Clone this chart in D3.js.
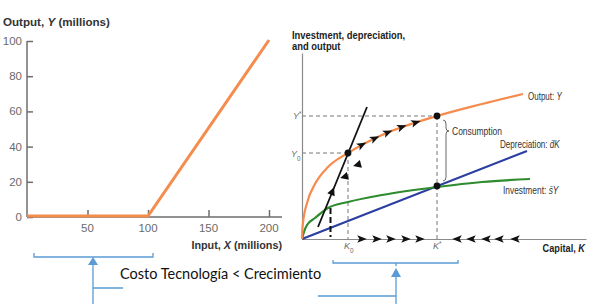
<!DOCTYPE html>
<html><head><meta charset="utf-8">
<script src="https://cdn.jsdelivr.net/npm/d3@7"></script>
<style>body{margin:0;background:#fff}svg{display:block}</style>
</head><body>
<script>
// ---------- Left chart data ----------
const leftInput = [0, 100, 200];
const leftOutput = [0, 0, 100];
const leftYTicks = [0, 20, 40, 60, 80, 100];
const leftXTicks = [50, 100, 150, 200];

// ---------- Right chart data (arbitrary units) ----------
const outK = [0, 0.3, 1, 5, 13, 26, 46, 80, 135, 180, 221];
const outY = [0, 8, 16, 36, 55, 72, 86, 104, 123, 135, 145];
const invK = [0, 2, 5, 13, 26, 46, 80, 135, 180, 228];
const invI = [0, 7, 14, 21, 31, 37, 44, 52, 57, 60];
const depK = [0, 225];
const depD = [0, 88];
const tanK = [16, 65];
const tanV = [12, 132];
const steadyK = [46, 135];      // K0, K*
const steadyY = [86, 123];      // Y0, Y*
const steadyI = 53;             // investment = depreciation at K*
const curveArrowK = [60, 73, 86, 100, 114];
const axisRightK = [60, 75, 89, 104, 118];
const axisLeftK = [155, 169, 184, 197, 213];
const annotText = "Costo Tecnología < Crecimiento";

const W = 598, H = 304;
const svg = d3.select("body").append("svg").attr("width", W).attr("height", H);
svg.append("rect").attr("width", W).attr("height", H).attr("fill", "#fff");

const ORANGE = "#f58b4c", BLUE = "#5b9bd5";

// ================= LEFT CHART =================
const lx = d3.scaleLinear().domain([0, 200]).range([27, 269]);
const ly = d3.scaleLinear().domain([0, 100]).range([217, 41]);
const L = svg.append("g").attr("font-family", "Liberation Sans, Arial, sans-serif");

const axCol = "#6e6e6e";
const yAx = L.append("g").attr("transform", `translate(${lx(0)},0)`)
  .call(d3.axisRight(ly).tickValues(leftYTicks).tickSize(6).tickFormat(""));
yAx.select(".domain").attr("stroke", axCol).attr("stroke-width", 1.5).attr("d", `M0,${ly(100)}V${ly(0)}`);
yAx.selectAll(".tick line").attr("stroke", axCol).attr("stroke-width", 1.5);
L.selectAll(".ylab").data(leftYTicks).join("text")
  .attr("x", 22).attr("y", d => ly(d) + 4).attr("text-anchor", "end")
  .attr("font-size", 11.5).attr("fill", "#6a6a6a").text(d => d);
const xAx = L.append("g").attr("transform", `translate(0,${ly(0)})`)
  .call(d3.axisTop(lx).tickValues(leftXTicks).tickSize(7).tickFormat(""));
xAx.select(".domain").attr("stroke", axCol).attr("stroke-width", 1.5).attr("d", `M${lx(0)},0H282`);
xAx.selectAll(".tick line").attr("stroke", axCol).attr("stroke-width", 1.5);
L.selectAll(".xlab").data(leftXTicks).join("text")
  .attr("x", d => lx(d)).attr("y", 232).attr("text-anchor", "middle")
  .attr("font-size", 11.5).attr("fill", "#6a6a6a").text(d => d);

L.append("path").datum(leftInput.map((d, i) => [d, leftOutput[i]]))
  .attr("d", d3.line().x(d => lx(d[0])).y(d => ly(d[1]) - 1))
  .attr("fill", "none").attr("stroke", ORANGE).attr("stroke-width", 3);

const t1 = L.append("text").attr("x", 3).attr("y", 26).attr("font-size", 11.6).attr("font-weight", "bold").attr("fill", "#333");
t1.append("tspan").text("Output, ");
t1.append("tspan").attr("font-style", "italic").text("Y");
t1.append("tspan").text(" (millions)");
const t2 = L.append("text").attr("x", 282).attr("y", 249).attr("text-anchor", "end").attr("font-size", 10.8).attr("font-weight", "bold").attr("fill", "#333");
t2.append("tspan").text("Input, ");
t2.append("tspan").attr("font-style", "italic").text("X");
t2.append("tspan").text(" (millions)");

// ================= RIGHT CHART =================
const rx = d3.scaleLinear().domain([0, 284]).range([302, 586]);
const ry = d3.scaleLinear().domain([0, 186]).range([239, 53]);
const R = svg.append("g").attr("font-family", "Liberation Sans, Arial, sans-serif");
const gray = "#8a8a8a";

const dash = (x1, y1, x2, y2) => R.append("line").attr("x1", x1).attr("y1", y1).attr("x2", x2).attr("y2", y2)
  .attr("stroke", "#777").attr("stroke-width", 1).attr("stroke-dasharray", "4,3");
dash(rx(0), ry(steadyY[1]), rx(steadyK[1]), ry(steadyY[1]));
dash(rx(0), ry(steadyY[0]), rx(steadyK[0]), ry(steadyY[0]));
dash(rx(steadyK[1]), ry(steadyY[1]), rx(steadyK[1]), ry(0));
dash(rx(steadyK[0]), ry(steadyY[0]), rx(steadyK[0]), ry(0));

const rxAx = R.append("g").attr("transform", `translate(0,${ry(0)})`).call(d3.axisBottom(rx).tickValues([]).tickSizeOuter(0));
rxAx.select(".domain").attr("stroke", gray).attr("stroke-width", 1.2);
const ryAx = R.append("g").attr("transform", `translate(${rx(0)},0)`).call(d3.axisLeft(ry).tickValues([]).tickSizeOuter(0));
ryAx.select(".domain").attr("stroke", gray).attr("stroke-width", 1.2);

const line = d3.line().x(d => rx(d[0])).y(d => ry(d[1])).curve(d3.curveMonotoneX);
R.append("path").datum(depK.map((k, i) => [k, depD[i]])).attr("d", line)
  .attr("fill", "none").attr("stroke", "#2b3fa0").attr("stroke-width", 2.2);
R.append("path").datum(invK.map((k, i) => [k, invI[i]])).attr("d", line)
  .attr("fill", "none").attr("stroke", "#2e8b2e").attr("stroke-width", 2.2);
const outPath = R.append("path").datum(outK.map((k, i) => [k, outY[i]])).attr("d", line)
  .attr("fill", "none").attr("stroke", ORANGE).attr("stroke-width", 2.2);

R.append("path").datum(tanK.map((k, i) => [k, tanV[i]])).attr("d", d3.line().x(d => rx(d[0])).y(d => ry(d[1])))
  .attr("stroke", "#111").attr("stroke-width", 1.8);
R.append("line").attr("x1", rx(28.5)).attr("x2", rx(28.5)).attr("y1", ry(31)).attr("y2", ry(2))
  .attr("stroke", "#111").attr("stroke-width", 2).attr("stroke-dasharray", "6,3");

const arrowPath = "M-4.8,-3.8L4.8,0L-4.8,3.8L-2.6,0Z";
const node = outPath.node(), total = node.getTotalLength();
function pointAtX(px) {
  let lo = 0, hi = total;
  for (let i = 0; i < 40; i++) { const m = (lo + hi) / 2; if (node.getPointAtLength(m).x < px) lo = m; else hi = m; }
  return lo;
}
curveArrowK.forEach(k => {
  const l = pointAtX(rx(k)); const p = node.getPointAtLength(l);
  const a = node.getPointAtLength(l - 2), b = node.getPointAtLength(l + 2);
  const ang = Math.atan2(b.y - a.y, b.x - a.x) * 180 / Math.PI;
  R.append("path").attr("d", arrowPath).attr("fill", "#111").attr("transform", `translate(${p.x},${p.y}) rotate(${ang})`);
});
axisRightK.forEach(k => R.append("path").attr("d", arrowPath).attr("fill", "#111")
  .attr("transform", `translate(${rx(k)},${ry(0)})`));
axisLeftK.forEach(k => R.append("path").attr("d", arrowPath).attr("fill", "#111")
  .attr("transform", `translate(${rx(k)},${ry(0)}) rotate(180)`));
const tri = "M-4,-4L4,0L-4,4Z";
const lineAng = Math.atan2(ry(tanV[1]) - ry(tanV[0]), rx(tanK[1]) - rx(tanK[0])) * 180 / Math.PI;
R.append("path").attr("d", tri).attr("fill", "#111").attr("transform", `translate(${rx(30.5)},${ry(48)}) rotate(${lineAng})`);
R.append("path").attr("d", tri).attr("fill", "#111").attr("transform", `translate(${rx(42)},${ry(62)}) rotate(165)`);
R.append("path").attr("d", tri).attr("fill", "#111").attr("transform", `translate(${rx(55)},${ry(74)}) rotate(165)`);

const pts = [[steadyK[0], steadyY[0]], [steadyK[1], steadyY[1]], [steadyK[1], steadyI]];
R.selectAll(".pt").data(pts).join("circle").attr("cx", d => rx(d[0])).attr("cy", d => ry(d[1])).attr("r", 3.4).attr("fill", "#111");

const bx = rx(steadyK[1]) + 6, yt = ry(steadyY[1]) + 4, yb = ry(steadyI) - 5, ym = ry(steadyY[1]) + 15;
R.append("path").attr("d",
  `M${bx},${yt} Q${bx + 3},${yt} ${bx + 3},${yt + 4} L${bx + 3},${ym - 3} Q${bx + 3},${ym} ${bx + 6},${ym} Q${bx + 3},${ym} ${bx + 3},${ym + 3} L${bx + 3},${yb - 4} Q${bx + 3},${yb} ${bx},${yb}`)
  .attr("fill", "none").attr("stroke", "#666").attr("stroke-width", 1);

// labels: condensed look by horizontal scaling (sx)
const lab = (x, y, parts, opts = {}) => {
  const sx = opts.sx || 1;
  const t = R.append("text").attr("transform", `translate(${x},${y}) scale(${sx},1)`)
    .attr("font-size", opts.size || 10).attr("fill", opts.fill || "#333")
    .attr("text-anchor", opts.anchor || "start");
  if (opts.bold) t.attr("font-weight", "bold");
  parts.forEach(p => { const s = t.append("tspan").text(p[0]); if (p[1]) s.attr("font-style", "italic"); if (p[2]) s.attr("baseline-shift", p[2]).attr("font-size", "70%"); });
  return t;
};
lab(292, 38.5, [["Investment, depreciation,"]], { bold: true, size: 10, fill: "#222", sx: 0.94 });
lab(292, 49.5, [["and output"]], { bold: true, size: 10, fill: "#222", sx: 0.94 });
lab(585, 252, [["Capital, "], ["K", true]], { bold: true, size: 10, anchor: "end", fill: "#222", sx: 0.92 });
lab(528, 99.5, [["Output: "], ["Y", true]], { size: 10, sx: 0.8 });
lab(452, 134.5, [["Consumption"]], { size: 10, sx: 0.85 });
lab(500, 147.5, [["Depreciation: "], ["d\u0304K", true]], { size: 10, sx: 0.81 });
lab(503, 193.5, [["Investment: "], ["s\u0304Y", true]], { size: 10, sx: 0.84 });
lab(293, 119, [["Y", true], ["*", false, "super"]], { size: 9, fill: "#666" });
lab(291, 156.5, [["Y", true], ["0", false, "sub"]], { size: 9, fill: "#666" });
lab(rx(steadyK[0]) - 4, 249, [["K", true], ["0", false, "sub"]], { size: 9, fill: "#666" });
lab(rx(steadyK[1]) - 4, 249, [["K", true], ["*", false, "super"]], { size: 9, fill: "#666" });

// ================= ANNOTATIONS =================
const A = svg.append("g").attr("stroke", BLUE).attr("stroke-width", 1.3).attr("fill", "none");
A.append("path").attr("d", "M34,253V257H153V253");
A.append("path").attr("d", "M93,265V304M93,288H123");
svg.append("path").attr("d", "M93,257L88,265H98Z").attr("fill", BLUE);
A.append("path").attr("d", "M333,260V263H458V260");
A.append("path").attr("d", "M396,263V266M396,277V304M318,296H396");
svg.append("path").attr("d", "M396,268L391,277H401Z").attr("fill", BLUE);
svg.append("text").attr("x", 120).attr("y", 279).attr("font-family", "Lato, Open Sans, sans-serif")
  .attr("font-size", 14.5).attr("fill", "#111").text(annotText);
</script>
</body></html>
